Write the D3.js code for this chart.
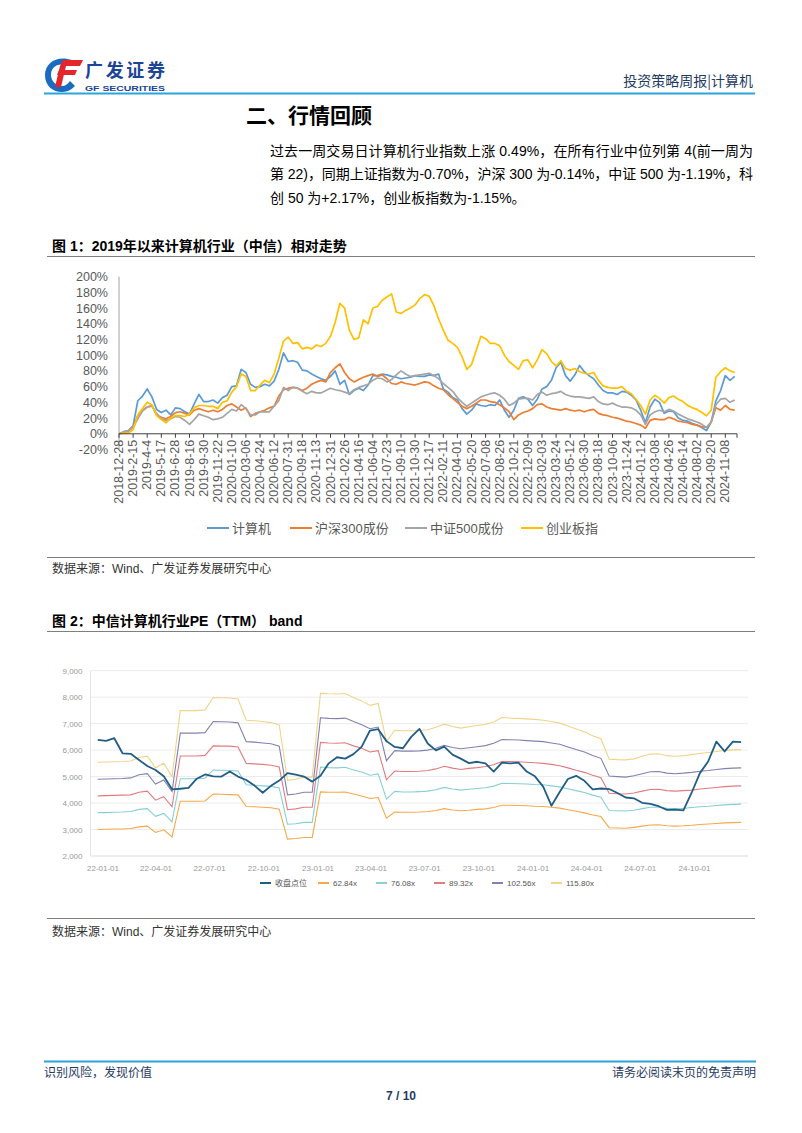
<!DOCTYPE html>
<html><head><meta charset="utf-8">
<script src="https://cdn.jsdelivr.net/npm/d3@7"></script>
<style>body{margin:0;background:#fff}svg{display:block}</style>
</head><body><svg id="page" width="802" height="1133"></svg>
<script>
// ---------- Chart 1 data ----------
const xLabels1 = ["2018-12-28","2019-2-15","2019-4-4","2019-5-17","2019-6-28","2019-8-16","2019-9-30","2019-11-22","2020-01-10","2020-03-06","2020-04-24","2020-06-12","2020-07-31","2020-09-18","2020-11-13","2020-12-31","2021-02-26","2021-04-16","2021-06-04","2021-07-23","2021-09-10","2021-10-30","2021-12-17","2022-02-11","2022-04-01","2022-05-20","2022-07-08","2022-08-26","2022-10-21","2022-12-09","2023-02-03","2023-03-24","2023-05-12","2023-06-30","2023-08-18","2023-10-06","2023-11-24","2024-01-12","2024-03-08","2024-04-26","2024-06-14","2024-08-02","2024-09-20","2024-11-08"];
const yTicks1 = [-20,0,20,40,60,80,100,120,140,160,180,200];
const names1 = ["计算机","沪深300成份","中证500成份","创业板指"];
const jsj = [0,2,4,10,42,48,57,47,31,27, 30,24,33,32,28,25,38,50,41,41, 43,39,46,49,60,61,82,78,63,59, 60,63,61,67,82,103,92,93,91,81, 80,76,73,70,68,73,80,63,68,50, 55,58,55,62,74,74,76,75,73,72, 70,71,72,74,73,73,75,74,76,57, 53,46,43,32,25,30,38,36,35,37, 36,43,30,21,30,45,47,44,36,44, 57,60,68,84,91,74,67,75,87,79, 74,70,62,55,52,52,50,54,53,49, 43,30,14,34,44,40,26,29,28,20, 17,16,13,11,8,4,15,42,55,74, 68,73];
const hs300 = [0,1,3,9,23,30,34,36,24,21, 19,22,27,28,26,24,30,32,30,28, 30,28,31,36,38,34,30,33,22,26, 28,30,33,35,48,56,58,59,58,55, 58,63,66,68,66,78,84,89,78,70, 66,69,72,74,76,73,75,70,64,63, 66,64,63,62,64,66,65,61,58,56, 50,45,40,35,32,35,39,43,43,41, 40,37,33,28,18,24,27,29,32,37, 38,34,32,31,30,32,30,29,30,28, 30,31,26,24,23,21,20,18,16,15, 13,11,7,17,19,18,18,21,19,16, 15,14,12,11,9,8,15,33,30,36, 31,30];
const zz500 = [0,3,4,8,19,29,34,35,26,19, 17,19,22,21,17,12,18,25,23,21, 18,19,21,26,31,29,37,32,24,24, 28,28,28,35,42,59,55,59,58,54, 51,54,52,52,55,58,56,55,53,51, 56,59,61,63,68,71,70,66,69,75, 80,76,73,74,75,76,77,74,70,64, 59,54,46,40,35,39,43,47,49,51, 52,49,44,36,39,44,45,45,43,50, 53,49,51,52,54,50,48,47,47,46, 45,47,41,38,37,39,36,34,34,33, 30,24,12,24,28,30,28,31,29,25, 22,19,17,15,12,8,15,37,44,45, 40,43];
const cyb = [0,1,1,5,24,32,40,37,23,18, 14,20,23,23,22,25,33,36,36,35, 35,32,40,42,53,60,76,73,55,55, 62,68,65,76,96,118,123,115,116,108, 110,108,113,111,115,124,142,166,160,132, 120,122,145,140,160,162,170,174,178,155, 153,157,160,164,172,177,175,163,146,132, 119,115,110,98,82,88,106,124,121,115, 115,112,100,92,87,82,93,94,84,94, 107,102,92,86,93,83,81,83,79,77, 76,78,68,61,59,58,58,60,54,51, 44,36,25,43,49,45,39,46,48,44, 41,36,33,31,27,23,30,72,79,84, 80,78];
const samplesPerLabel = 3;

// ---------- Chart 2 data ----------
const startDate2 = "2021-12-24"; const stepDays2 = 14;
const xTicks2 = ["2022-01-01","2022-04-01","2022-07-01","2022-10-01","2023-01-01","2023-04-01","2023-07-01","2023-10-01","2024-01-01","2024-04-01","2024-07-01","2024-10-01"];
const yTicks2 = [2000,3000,4000,5000,6000,7000,8000,9000];
const names2 = ["收盘点位","62.84x","76.08x","89.32x","102.56x","115.80x"];
const closePts = [6390,6350,6450,5880,5860,5630,5400,5250,5010,4520, 4540,4570,4920,5080,5010,5000,5190,5000,4870,4660, 4390,4650,4850,5130,5070,5000,4810,5030,5500,5730, 5680,5850,6130,6740,6790,6340,6120,6070,6500,6800, 6250,5990,6130,5830,5680,5510,5560,5500,5190,5530, 5500,5530,5190,5010,4620,3900,4420,4910,5030,4840, 4520,4550,4530,4380,4210,4180,4010,3970,3880,3740, 3750,3720,4390,5130,5570,6320,5950,6320,6300];
const pe6284 = [3000,3010,3020,3020,3040,3100,3130,2890,2990,2720, 4070,4070,4070,4080,4340,4330,4320,4310,3870,3860, 3840,3820,3770,2640,2660,2700,2700,4420,4410,4410, 4420,4340,4270,4170,4210,3430,3660,3650,3650,3660, 3680,3720,3790,3740,3710,3730,3760,3780,3830,3920, 3920,3910,3900,3880,3870,3840,3810,3750,3690,3630, 3550,3490,3070,3060,3050,3080,3130,3170,3180,3140, 3130,3140,3160,3190,3210,3230,3250,3260,3270];
const pe7608 = [3640,3640,3650,3660,3680,3760,3790,3500,3610,3290, 4920,4920,4920,4940,5250,5240,5230,5210,4690,4670, 4650,4630,4570,3200,3220,3270,3270,5360,5340,5330, 5350,5250,5170,5050,5100,4150,4440,4420,4420,4430, 4450,4500,4590,4530,4490,4520,4550,4580,4640,4750, 4740,4730,4720,4700,4690,4650,4610,4540,4470,4400, 4300,4220,3720,3710,3700,3730,3790,3840,3850,3800, 3790,3800,3830,3860,3880,3910,3930,3950,3960];
const pe8932 = [4270,4280,4290,4300,4310,4410,4450,4110,4240,3860, 5780,5780,5780,5800,6160,6150,6150,6120,5500,5480, 5460,5430,5360,3750,3780,3840,3840,6290,6270,6260, 6280,6160,6070,5930,5980,4880,5210,5190,5190,5200, 5230,5290,5390,5320,5270,5310,5340,5380,5450,5570, 5570,5560,5540,5520,5500,5460,5410,5330,5240,5160, 5050,4960,4370,4350,4340,4380,4450,4510,4520,4470, 4450,4470,4490,4530,4560,4590,4620,4640,4650];
const pe10256 = [4900,4910,4920,4930,4950,5070,5110,4720,4870,4430, 6640,6640,6640,6660,7080,7070,7060,7030,6320,6300, 6270,6240,6150,4310,4340,4410,4410,7220,7200,7190, 7210,7080,6960,6810,6870,5600,5980,5960,5960,5970, 6000,6070,6180,6100,6050,6090,6130,6170,6260,6400, 6390,6380,6360,6340,6320,6270,6220,6120,6020,5930, 5800,5690,5020,5000,4980,5030,5110,5180,5190,5130, 5110,5130,5160,5200,5230,5270,5300,5320,5330];
const pe11580 = [5540,5550,5560,5570,5590,5720,5770,5330,5500,5000, 7490,7490,7490,7520,7990,7980,7970,7930,7130,7110, 7080,7040,6950,4860,4900,4980,4980,8150,8130,8120, 8140,7990,7860,7690,7760,6320,6750,6730,6730,6740, 6770,6860,6980,6890,6830,6880,6930,6970,7060,7230, 7210,7200,7180,7160,7130,7080,7020,6910,6800,6690, 6540,6430,5660,5640,5630,5670,5770,5850,5860,5790, 5770,5790,5830,5870,5910,5950,5990,6010,6020];

// ---------- drawing ----------
const svg = d3.select("#page");
const CJK = "'Noto Sans CJK SC','Noto Sans',sans-serif";
const MIX = "'Liberation Sans','Noto Sans CJK SC',sans-serif";
const NAVY = "#1f3b63", RULE = "#2ba3dc";

// header logo
const logo = svg.append("g");
logo.append("path").attr("d","M72,60 C58,55 45,62 45,75 C45,86 53,92 62,92 C68,92 72,89 75,86 L70,81 C68,84 65,86 62,86 C56,86 51,81 51,75 C51,67 58,62 68,66 Z").attr("fill","#1a6cc0");
logo.append("path").attr("d","M63,60 L83,60 L80,66 L60,66 Z").attr("fill","#e2262b");
logo.append("path").attr("d","M59,70 L77,70 L75,75 L57,75 Z").attr("fill","#e2262b");
logo.append("path").attr("d","M60,66 L66,66 L61,87 L55,87 Z").attr("fill","#e2262b");
svg.append("text").attr("x",85).attr("y",77).attr("font-family",CJK).attr("font-weight","bold").attr("font-size",18).attr("fill","#1c4595").attr("textLength",80).text("广发证券");
svg.append("text").attr("x",85).attr("y",91).attr("font-family","'Liberation Sans',sans-serif").attr("font-weight","bold").attr("font-size",8).attr("fill","#1c4595").attr("textLength",80).attr("lengthAdjust","spacingAndGlyphs").text("GF SECURITIES");
svg.append("text").attr("x",753).attr("y",86).attr("text-anchor","end").attr("font-family",CJK).attr("font-size",14).attr("fill",NAVY).text("投资策略周报|计算机");
svg.append("line").attr("x1",44).attr("x2",755).attr("y1",93.5).attr("y2",93.5).attr("stroke",RULE).attr("stroke-width",1.8);

// section
svg.append("text").attr("x",246).attr("y",123).attr("font-family",CJK).attr("font-weight","bold").attr("font-size",21).attr("fill","#000").text("二、行情回顾");
const para = [
  ["过去一周交易日计算机行业指数上涨 0.49%，在所有行业中位列第 4(前一周为", true],
  ["第 22)，同期上证指数为-0.70%，沪深 300 为-0.14%，中证 500 为-1.19%，科", true],
  ["创 50 为+2.17%，创业板指数为-1.15%。", false]];
para.forEach((p,i)=>{
  const t = svg.append("text").attr("x",270).attr("y",156+i*23.3).attr("font-family",MIX).attr("font-size",14).attr("fill","#000").text(p[0]);
  if (p[1]) t.attr("textLength",483).attr("lengthAdjust","spacing");
});

function rule(y){ svg.append("line").attr("x1",47).attr("x2",755).attr("y1",y).attr("y2",y).attr("stroke","#7f7f7f").attr("stroke-width",1); }
function figTitle(txt,y){ svg.append("text").attr("x",52).attr("y",y).attr("font-family",MIX).attr("font-weight","bold").attr("font-size",14).attr("fill","#000").text(txt); }
function source(y){ svg.append("text").attr("x",52).attr("y",y).attr("font-family",MIX).attr("font-size",12).attr("fill","#333").text("数据来源：Wind、广发证券发展研究中心"); }

// ---------- chart 1 ----------
figTitle("图 1：2019年以来计算机行业（中信）相对走势",251);
rule(256.5);
const x1 = d3.scaleLinear().domain([0,(xLabels1.length-1)*samplesPerLabel]).range([119,725.3]);
const y1 = d3.scaleLinear().domain([-20,200]).range([449.5,276.6]);
const g1 = svg.append("g");
g1.append("line").attr("x1",119).attr("x2",119).attr("y1",y1(200)).attr("y2",y1(-20)).attr("stroke","#8c8c8c").attr("stroke-width",0.8);
const ya1 = g1.append("g").attr("transform","translate(119,0)").call(d3.axisLeft(y1).tickValues(yTicks1).tickFormat(d=>d+"%").tickSize(0).tickPadding(11));
ya1.select(".domain").remove();
ya1.selectAll("text").attr("font-family","'Liberation Sans',Arial,sans-serif").attr("font-size",12.5).attr("fill","#595959");
const c1 = ["#5b9bd5","#ed7d31","#a5a5a5","#ffc000"];
const line1 = d3.line().x((d,i)=>x1(i)).y(d=>y1(d));
[jsj,hs300,zz500,cyb].forEach((s,i)=>{
  g1.append("path").attr("d",line1(s)).attr("fill","none").attr("stroke",c1[i]).attr("stroke-width",1.7).attr("stroke-linejoin","round");
});
g1.append("line").attr("x1",119).attr("x2",737).attr("y1",y1(0)).attr("y2",y1(0)).attr("stroke","#404040").attr("stroke-width",1);
xLabels1.forEach((lab,i)=>{
  const xx = x1(i*samplesPerLabel);
  g1.append("line").attr("x1",xx).attr("x2",xx).attr("y1",y1(0)).attr("y2",y1(0)+4).attr("stroke","#404040");
  g1.append("text").attr("transform",`translate(${xx},${y1(0)+6}) rotate(-90)`).attr("text-anchor","end").attr("dominant-baseline","central")
    .attr("font-family","'Liberation Sans',Arial,sans-serif").attr("font-size",12.5).attr("fill","#595959").text(lab);
});
g1.append("line").attr("x1",737).attr("x2",737).attr("y1",y1(0)).attr("y2",y1(0)+4).attr("stroke","#404040");
const lg1x = [207,290,405,521];
names1.forEach((n,i)=>{
  g1.append("line").attr("x1",lg1x[i]).attr("x2",lg1x[i]+22).attr("y1",528).attr("y2",528).attr("stroke",c1[i]).attr("stroke-width",2);
  g1.append("text").attr("x",lg1x[i]+25).attr("y",532.5).attr("font-family",MIX).attr("font-size",13).attr("fill","#595959").text(n);
});
rule(557.5);
source(573);

// ---------- chart 2 ----------
figTitle("图 2：中信计算机行业PE（TTM） band",626);
rule(631.5);
const parse = d3.utcParse("%Y-%m-%d");
const d0 = parse(startDate2);
const dates2 = closePts.map((_,i)=>d3.utcDay.offset(d0,i*stepDays2));
const x2 = d3.scaleUtc().domain([parse("2022-01-01"),parse("2024-10-01")]).range([102.5,694]);
const y2 = d3.scaleLinear().domain([2000,9000]).range([856,670.7]);
const g2 = svg.append("g");
yTicks2.forEach(v=>{
  g2.append("line").attr("x1",90.5).attr("x2",748).attr("y1",y2(v)).attr("y2",y2(v)).attr("stroke", v===2000?"#dcdcdc":"#ececec").attr("stroke-width",1);
});
g2.append("line").attr("x1",90.5).attr("x2",90.5).attr("y1",y2(9000)).attr("y2",y2(2000)).attr("stroke","#e4e4e4");
const ya2 = g2.append("g").attr("transform","translate(90.5,0)").call(d3.axisLeft(y2).tickValues(yTicks2).tickFormat(d3.format(",")).tickSize(0).tickPadding(8));
ya2.select(".domain").remove();
ya2.selectAll("text").attr("font-family","'Liberation Sans',sans-serif").attr("font-size",8).attr("fill","#999");
const xa2 = g2.append("g").attr("transform","translate(0,856)").call(d3.axisBottom(x2).tickValues(xTicks2.map(parse)).tickFormat(d3.utcFormat("%y-%m-%d")).tickSize(0).tickPadding(9));
xa2.select(".domain").remove();
xa2.selectAll("text").attr("font-family","'Liberation Sans',sans-serif").attr("font-size",8).attr("fill","#999");
const c2 = ["#215d85","#f5a94a","#86cfd6","#e07c80","#8082b0","#efd48a"];
const line2 = d3.line().x((d,i)=>x2(dates2[i])).y(d=>y2(d));
[pe6284,pe7608,pe8932,pe10256,pe11580].forEach((s,i)=>{
  g2.append("path").attr("d",line2(s)).attr("fill","none").attr("stroke",c2[i+1]).attr("stroke-width",1.1);
});
g2.append("path").attr("d",line2(closePts)).attr("fill","none").attr("stroke",c2[0]).attr("stroke-width",1.8).attr("stroke-linejoin","round");
const lg2x = [260,318,376,434,492,551];
names2.forEach((n,i)=>{
  g2.append("line").attr("x1",lg2x[i]).attr("x2",lg2x[i]+11).attr("y1",883).attr("y2",883).attr("stroke",c2[i]).attr("stroke-width",2);
  g2.append("text").attr("x",lg2x[i]+15).attr("y",886).attr("font-family",MIX).attr("font-size",8).attr("fill","#555").text(n);
});
rule(918.5);
source(936);

// footer
svg.append("line").attr("x1",44).attr("x2",756).attr("y1",1061.5).attr("y2",1061.5).attr("stroke",RULE).attr("stroke-width",1.8);
svg.append("text").attr("x",44).attr("y",1077).attr("font-family",CJK).attr("font-size",12).attr("fill",NAVY).text("识别风险，发现价值");
svg.append("text").attr("x",756).attr("y",1077).attr("text-anchor","end").attr("font-family",CJK).attr("font-size",12).attr("fill",NAVY).text("请务必阅读末页的免责声明");
svg.append("text").attr("x",401).attr("y",1100).attr("text-anchor","middle").attr("font-family","'Liberation Sans',sans-serif").attr("font-weight","bold").attr("font-size",12).attr("fill",NAVY).text("7 / 10");
</script></body></html>
